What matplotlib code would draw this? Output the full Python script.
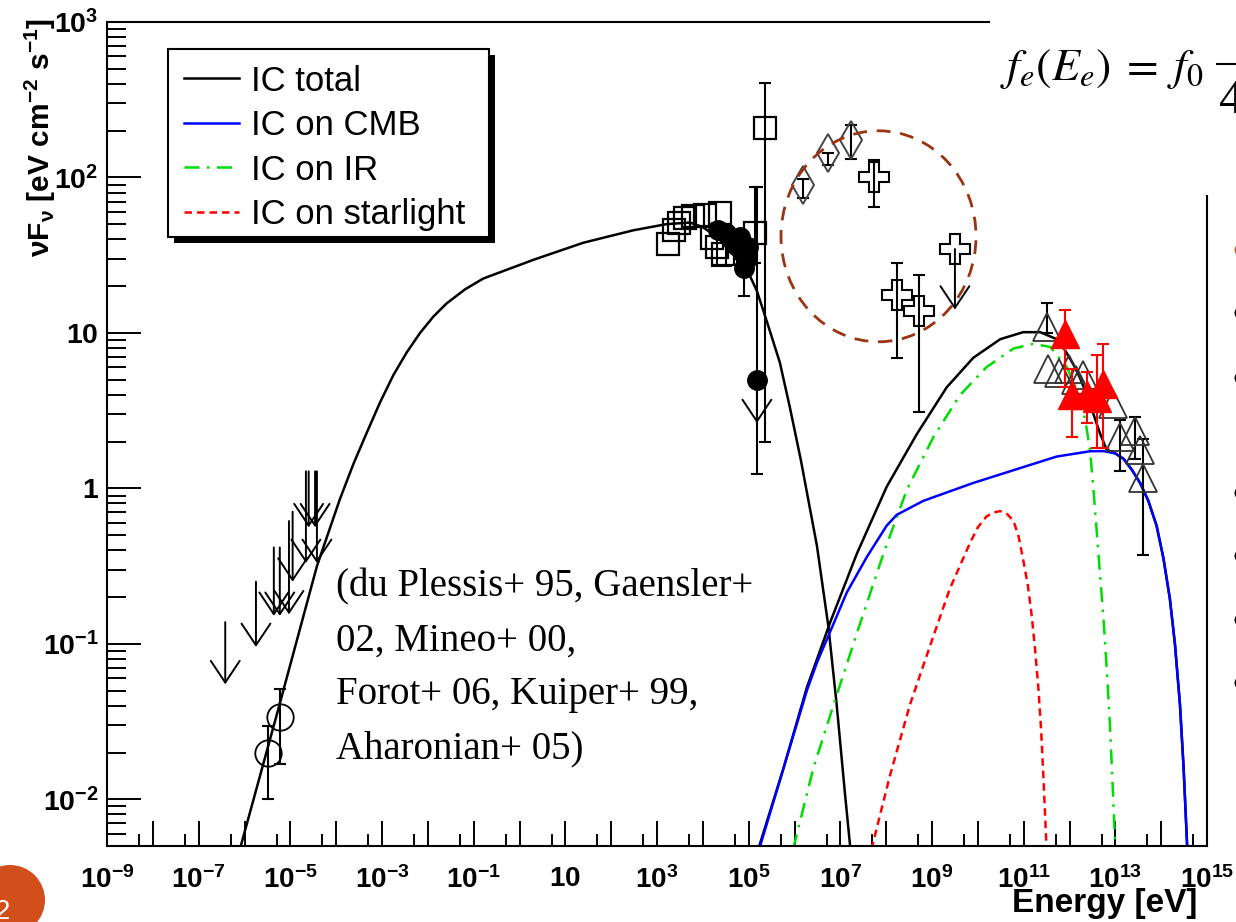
import numpy as np
import matplotlib
matplotlib.use("Agg")
import matplotlib.pyplot as plt
from matplotlib.patches import Ellipse, Rectangle
from matplotlib.lines import Line2D
from matplotlib.ticker import FixedLocator, LogLocator, NullFormatter

W, H = 1236, 922

plt.rcParams["font.family"] = ["Liberation Sans", "DejaVu Sans"]
plt.rcParams["mathtext.fontset"] = "custom"
plt.rcParams["mathtext.rm"] = "Liberation Sans"
plt.rcParams["mathtext.bf"] = "Liberation Sans:bold"
plt.rcParams["mathtext.it"] = "Liberation Sans:italic"
plt.rcParams["lines.solid_joinstyle"] = "round"
plt.rcParams["lines.dash_joinstyle"] = "round"

# ---- model curves: log10(E / eV) and log10(nuF_nu / eV cm^-2 s^-1)
sync_logE = [-6.10, -5.70, -5.30, -4.86, -4.42, -3.92, -3.62, -3.33, -3.04, -2.75, -2.46,
             -2.17, -1.88, -1.59, -1.19, -0.79, 0.30, 1.39, 2.48, 3.21, 3.72, 4.00, 4.30,
             4.65, 4.96, 5.18, 5.39, 5.68, 5.90, 6.14, 6.49, 6.74, 6.92, 7.10, 7.22]
sync_logF = [-2.32, -1.89, -1.46, -0.98, -0.50, -0.07, 0.16, 0.36, 0.555, 0.73, 0.875,
             1.00, 1.105, 1.19, 1.28, 1.35, 1.47, 1.58, 1.66, 1.70, 1.71, 1.68, 1.62,
             1.53, 1.41, 1.27, 1.08, 0.81, 0.52, 0.18, -0.37, -0.89, -1.39, -1.96, -2.32]

ic_total_logE = [5.21, 5.76, 6.27, 6.78, 7.36, 8.01, 8.67, 9.32, 9.90, 10.49, 10.99,
                 11.36, 11.72, 11.90, 12.08, 12.23, 12.38, 12.52, 12.67, 12.81, 13.00,
                 13.18, 13.36, 13.54, 13.72, 13.90, 14.05, 14.19, 14.30, 14.41, 14.49, 14.57]
ic_total_logF = [-2.32, -1.80, -1.28, -0.86, -0.42, 0.01, 0.35, 0.65, 0.84, 0.96, 1.005,
                 1.005, 0.96, 0.89, 0.80, 0.71, 0.60, 0.48, 0.35, 0.25, 0.225,
                 0.19, 0.12, 0.035, -0.08, -0.24, -0.45, -0.71, -1.00, -1.39, -1.80, -2.32]

ic_cmb_logE = [5.23, 5.76, 6.27, 6.49, 6.78, 7.14, 7.58, 8.01, 8.23, 8.81, 9.90, 10.99,
               11.72, 12.45, 12.74, 13.00, 13.18, 13.36, 13.54, 13.72, 13.90, 14.05, 14.19,
               14.30, 14.41, 14.49, 14.57]
ic_cmb_logF = [-2.32, -1.80, -1.30, -1.12, -0.92, -0.67, -0.44, -0.24, -0.17, -0.08,
               0.035, 0.137, 0.205, 0.239, 0.24, 0.225, 0.19, 0.12, 0.035, -0.08, -0.24,
               -0.45, -0.71, -1.00, -1.39, -1.80, -2.32]

ic_ir_logE = [5.97, 6.41, 6.92, 7.43, 7.94, 8.45, 9.03, 9.61, 10.19, 10.78, 11.21, 11.58,
              11.94, 12.08, 12.23, 12.35, 12.45, 12.52, 12.59, 12.66, 12.74, 12.81, 12.88,
              12.94, 13.00]
ic_ir_logF = [-2.32, -1.80, -1.33, -0.87, -0.42, -0.01, 0.33, 0.60, 0.78, 0.90, 0.93, 0.91,
              0.78, 0.69, 0.58, 0.43, 0.24, 0.00, -0.26, -0.53, -0.83, -1.15, -1.51,
              -1.90, -2.32]

ic_star_logE = [7.68, 8.08, 8.52, 8.96, 9.39, 9.83, 10.00, 10.19, 10.34, 10.49, 10.64,
                10.78, 10.89, 10.99, 11.09, 11.18, 11.25, 11.32, 11.38, 11.43, 11.50]
ic_star_logF = [-2.32, -1.85, -1.39, -1.01, -0.645, -0.35, -0.25, -0.18, -0.155, -0.146,
                -0.165, -0.21, -0.31, -0.46, -0.62, -0.83, -1.04, -1.28, -1.55, -1.85, -2.32]

# ---- data points (value, lower and upper end of the error bar)
circ_logE = [-5.48, -5.22]
circ_logF = [-1.70, -1.47]
circ_lo = [-2.00, -1.77]
circ_hi = [-1.53, -1.29]

ul_logE = [-6.42, -5.75, -5.36, -5.23, -5.03, -4.95, -4.66, -4.42, -4.60, -4.46]
ul_top = [-0.86, -0.60, -0.38, -0.38, -0.21, -0.15, 0.11, 0.11, 0.11, 0.11]
ul_tip = [-1.26, -1.02, -0.82, -0.82, -0.81, -0.60, -0.48, -0.48, -0.25, -0.25]

sq_logE = [3.25, 3.36, 3.49, 3.61, 3.79, 4.05, 4.38, 4.19, 4.30, 4.45, 5.14, 5.36]
sq_logF = [1.57, 1.66, 1.71, 1.74, 1.75, 1.76, 1.77, 1.61, 1.55, 1.51, 1.64, 2.32]
sq_lo = [1.57, 1.66, 1.71, 1.74, 1.75, 1.76, 1.77, 1.61, 1.43, 1.51, 1.45, 0.30]
sq_hi = [1.57, 1.66, 1.71, 1.74, 1.75, 1.76, 1.77, 1.61, 1.71, 1.51, 1.94, 2.61]

fc_logE = [4.33, 4.50, 4.63, 4.74, 4.86, 4.94, 4.99, 4.81, 4.90, 5.18]
fc_logF = [1.66, 1.64, 1.60, 1.56, 1.52, 1.47, 1.55, 1.62, 1.42, 0.70]
fc_lo = [1.66, 1.43, 1.60, 1.56, 1.52, 1.47, 1.55, 1.62, 1.24, 0.09]
fc_hi = [1.66, 1.70, 1.60, 1.56, 1.52, 1.47, 1.55, 1.62, 1.58, 1.94]
fc_ul = [5.18, 0.70, 0.42]  # logE, from, to

dm_logE = [6.19, 6.74, 7.23]
dm_logF = [1.95, 2.16, 2.24]
dm_lo = [1.87, 2.08, 2.12]
dm_hi = [1.99, 2.16, 2.34]

cr_logE = [7.74, 8.23, 8.72, 9.50]
cr_logF = [2.00, 1.245, 1.14, 1.54]
cr_lo = [1.81, 0.84, 0.49, 1.54]
cr_hi = [2.11, 1.45, 1.37, 1.54]
cr_ul = [9.50, 1.54, 1.15]

tri_logE = [11.50, 11.54, 11.76, 11.98, 12.14, 12.30, 12.95, 13.10, 13.43, 13.54, 13.61]
tri_logF = [1.04, 0.77, 0.74, 0.77, 0.70, 0.73, 0.54, 0.33, 0.37, 0.25, 0.07]
tri_lo = [1.00, 0.77, 0.74, 0.77, 0.70, 0.73, 0.54, 0.11, 0.19, 0.25, -0.43]
tri_hi = [1.19, 0.77, 0.74, 0.77, 0.70, 0.73, 0.54, 0.44, 0.46, 0.25, 0.32]

red_logE = [11.90, 12.05, 12.38, 12.60, 12.74]
red_logF = [0.99, 0.60, 0.60, 0.58, 0.67]
red_lo = [0.65, 0.33, 0.42, 0.26, 0.26]
red_hi = [1.15, 0.77, 0.75, 0.86, 0.93]

x_major_exp = list(range(-9, 16))
x_labels = [r"$\mathbf{10^{-9}}$", "", r"$\mathbf{10^{-7}}$", "", r"$\mathbf{10^{-5}}$", "",
            r"$\mathbf{10^{-3}}$", "", r"$\mathbf{10^{-1}}$", "", r"$\mathbf{10}$", "",
            r"$\mathbf{10^{3}}$", "", r"$\mathbf{10^{5}}$", "", r"$\mathbf{10^{7}}$", "",
            r"$\mathbf{10^{9}}$", "", r"$\mathbf{10^{11}}$", "", r"$\mathbf{10^{13}}$", "",
            r"$\mathbf{10^{15}}$"]
y_major_exp = [-2, -1, 0, 1, 2, 3]
y_labels = [r"$\mathbf{10^{-2}}$", r"$\mathbf{10^{-1}}$", r"$\mathbf{1}$", r"$\mathbf{10}$",
            r"$\mathbf{10^{2}}$", r"$\mathbf{10^{3}}$"]

ref_text = "(du Plessis+ 95, Gaensler+\n02, Mineo+ 00,\nForot+ 06, Kuiper+ 99,\nAharonian+ 05)"


def p10(a):
    return np.power(10.0, np.asarray(a, dtype=float))


def errbars(ax, logE, logF, lo, hi, color):
    e, f, lo, hi = (np.asarray(v, dtype=float) for v in (logE, logF, lo, hi))
    m = hi > lo
    ax.errorbar(p10(e[m]), p10(f[m]), yerr=[p10(f[m]) - p10(lo[m]), p10(hi[m]) - p10(f[m])],
                fmt="none", ecolor=color, elinewidth=1.5, capsize=4, capthick=1.5, zorder=3)


def down_arrow(ax, logE, top, tip, color="black"):
    ax.annotate("", xy=(10.0 ** logE, 10.0 ** tip), xytext=(10.0 ** logE, 10.0 ** top),
                arrowprops=dict(arrowstyle="->,head_length=0.6,head_width=0.4", lw=1.4,
                                color=color, shrinkA=0, shrinkB=0, mutation_scale=26),
                zorder=3)


def fig_xy(x, y):
    return x / W, 1 - y / H


fig = plt.figure(figsize=(W / 100, H / 100), dpi=100)
ax = fig.add_axes([107 / W, 1 - 846 / H, 1100 / W, 824 / H])
ax.set_xscale("log")
ax.set_yscale("log")

# curves
ax.plot(p10(sync_logE), p10(sync_logF), color="black", lw=1.8, zorder=2)
ax.plot(p10(ic_total_logE), p10(ic_total_logF), color="black", lw=1.8, zorder=2, label="IC total")
ax.plot(p10(ic_cmb_logE), p10(ic_cmb_logF), color="blue", lw=1.8, zorder=2.1, label="IC on CMB")
ax.plot(p10(ic_ir_logE), p10(ic_ir_logF), color="#00dd00", lw=1.8, zorder=2,
        ls=(0, (6, 3, 1, 3)), label="IC on IR")
ax.plot(p10(ic_star_logE), p10(ic_star_logF), color="red", lw=1.8, zorder=2,
        ls=(0, (3, 2)), label="IC on starlight")

# data points
errbars(ax, circ_logE, circ_logF, circ_lo, circ_hi, "black")
ax.plot(p10(circ_logE), p10(circ_logF), ls="none", marker="o", ms=19, mfc="none",
        mec="black", mew=1.3, zorder=3)
for e, t, b in zip(ul_logE, ul_top, ul_tip):
    down_arrow(ax, e, t, b)

errbars(ax, sq_logE, sq_logF, sq_lo, sq_hi, "black")
ax.plot(p10(sq_logE), p10(sq_logF), ls="none", marker="s", ms=15.5, mfc="none",
        mec="black", mew=1.6, zorder=3)
errbars(ax, fc_logE, fc_logF, fc_lo, fc_hi, "black")
ax.plot(p10(fc_logE), p10(fc_logF), ls="none", marker="o", ms=14, color="black", zorder=3)
down_arrow(ax, *fc_ul)

errbars(ax, dm_logE, dm_logF, dm_lo, dm_hi, "black")
ax.plot(p10(dm_logE), p10(dm_logF), ls="none", marker="d", ms=19, mfc="none",
        mec="#444444", mew=1.4, zorder=3)
errbars(ax, cr_logE, cr_logF, cr_lo, cr_hi, "black")
ax.plot(p10(cr_logE), p10(cr_logF), ls="none", marker="P", ms=21, mfc="none",
        mec="black", mew=1.5, zorder=3)
down_arrow(ax, *cr_ul)

errbars(ax, tri_logE, tri_logF, tri_lo, tri_hi, "black")
ax.plot(p10(tri_logE), p10(tri_logF), ls="none", marker="^", ms=20, mfc="none",
        mec="#333333", mew=1.3, zorder=3)
errbars(ax, red_logE, red_logF, red_lo, red_hi, "red")
ax.plot(p10(red_logE), p10(red_logF), ls="none", marker="^", ms=20, color="red", zorder=3.1)

# axes, ticks
ax.set_xlim(1e-9, 1e15)
ax.set_ylim(10 ** -2.3, 1e3)
ax.set_xticks(p10(x_major_exp), labels=x_labels)
ax.xaxis.set_minor_locator(FixedLocator(5 * p10(np.arange(-10, 15))))
ax.xaxis.set_minor_formatter(NullFormatter())
ax.set_yticks(p10(y_major_exp), labels=y_labels)
ax.yaxis.set_minor_locator(LogLocator(base=10, subs=np.arange(2, 10)))
ax.yaxis.set_minor_formatter(NullFormatter())
ax.tick_params(which="both", direction="in", top=False, right=False, width=1.4)
ax.tick_params(axis="x", which="major", length=18, pad=14.5, labelsize=20)
ax.tick_params(axis="x", which="minor", length=8.5)
ax.tick_params(axis="y", which="major", length=24.5, pad=6, labelsize=20.5)
ax.tick_params(axis="y", which="minor", length=13.5)
for s in ax.spines.values():
    s.set_linewidth(1.5)

fig.text(*fig_xy(40, 18), r"$\mathbf{\nu F_{\nu}}$ [eV cm$^{\mathbf{-2}}$ s$^{\mathbf{-1}}$]",
         rotation=90, ha="center", va="top", fontsize=21.5, fontweight="bold")
fig.text(*fig_xy(1197, 912), "Energy [eV]", ha="right", va="baseline", fontsize=24,
         fontweight="bold")

# legend: own white box with a hard black shadow
leg = ax.legend(loc="upper left", bbox_to_anchor=fig_xy(168, 49), bbox_transform=fig.transFigure,
                borderaxespad=0, fontsize=25, frameon=True, fancybox=False,
                handlelength=1.6, handletextpad=0.35, labelspacing=0.33, borderpad=0.45)
leg.get_frame().set_visible(False)
fig.canvas.draw()
bb = leg.get_window_extent()
box_x0, box_y0 = bb.x0, bb.y0 + 10
box_w, box_h = bb.width + 8, bb.height - 10
ax.add_patch(Rectangle((box_x0 + 6, box_y0 - 6), box_w, box_h, transform=None,
                       facecolor="black", edgecolor="none", clip_on=False, zorder=4.9))
ax.add_patch(Rectangle((box_x0, box_y0), box_w, box_h, transform=None,
                       facecolor="white", edgecolor="black", lw=1.5, clip_on=False, zorder=4.95))

# dashed circle round the hard X-ray points
ax.add_patch(Ellipse(fig_xy(878.5, 236.3), 195 / W, 211 / H, transform=fig.transFigure,
                     fill=False, edgecolor="#9a3412", lw=2.0, ls=(0, (5, 3.5)),
                     clip_on=False, zorder=4))

fig.text(*fig_xy(336, 668), ref_text, ha="left", va="center", fontsize=28,
         family="Liberation Serif", linespacing=1.6)

# slide pieces around the chart
fig.add_artist(Rectangle(fig_xy(990, 195), 246 / W, 195 / H, transform=fig.transFigure,
                         facecolor="white", edgecolor="none", zorder=10))
fig.text(*fig_xy(1000, 80), r"$f_e(E_e)\;=\;f_0$", ha="left", va="baseline", fontsize=33,
         math_fontfamily="stix", zorder=11)
fig.add_artist(Line2D([1217 / W, 1.0], [1 - 64 / H] * 2, transform=fig.transFigure,
                      color="black", lw=1.5, zorder=11))
fig.text(*fig_xy(1219, 113), "4", ha="left", va="baseline", fontsize=35,
         family="Liberation Serif", zorder=11)

for i, yb in enumerate([250, 313, 378, 493, 556, 620, 683]):
    fig.add_artist(Ellipse(fig_xy(1241, yb), 13 / W, 13 / H, transform=fig.transFigure,
                           facecolor="#d9531e" if i == 0 else "black", edgecolor="none",
                           zorder=11))
fig.add_artist(Ellipse(fig_xy(10, 900), 70 / W, 70 / H, transform=fig.transFigure,
                       facecolor="#d24e1b", edgecolor="none", zorder=11))
fig.text(*fig_xy(2, 912), "2", ha="center", va="center", fontsize=20, color="white", zorder=12)

fig.savefig("out.png", dpi=100)
